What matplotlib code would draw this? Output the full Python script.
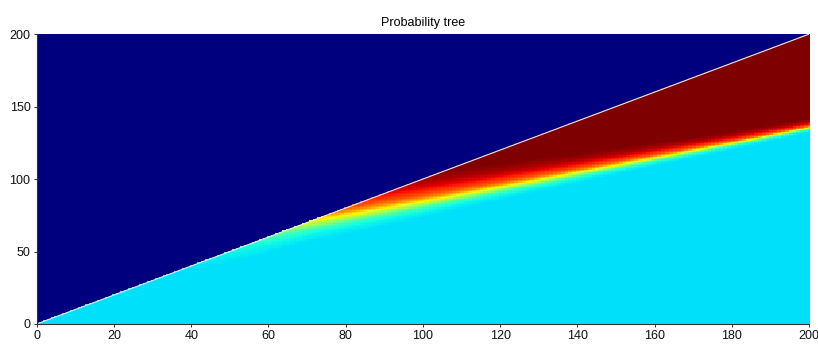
import numpy as np
import matplotlib
matplotlib.use("Agg")
import matplotlib.pyplot as plt

# ---- data ----
n_steps = 200                      # grid extent on both axes
value_above_diag = 0.0             # dark blue region (y > x)
value_low = 0.345                  # cyan region
value_high = 1.0                   # dark red region

# centre (yellow) line of the transition band and its width, read at several x
band_x = [0, 50, 60, 70, 80, 100, 120, 140, 160, 180, 200]
band_center = [42, 62, 66, 70.5, 75, 84.5, 94.5, 104.5, 114.7, 124.8, 135.5]
band_width = [8, 8, 7, 5.8, 5.4, 4.5, 3.6, 2.9, 2.3, 1.8, 1.4]

# value profile across the band (offset in band-width units -> value)
profile_offset = [-2.5, -1.5, -1.0, -0.5, 0.0, 0.5, 1.0, 2.0, 3.0, 4.5]
profile_value = [0.345, 0.37, 0.42, 0.53, 0.64, 0.75, 0.82, 0.90, 0.96, 1.0]

x_ticks = [0, 20, 40, 60, 80, 100, 120, 140, 160, 180, 200]
y_ticks = [0, 50, 100, 150, 200]
title = "Probability tree"

# ---- build grid ----
xs = np.arange(n_steps + 1)
ys = np.arange(n_steps + 1)
centers = np.interp(xs, band_x, band_center)
widths = np.interp(xs, band_x, band_width)
X, Y = np.meshgrid(xs, ys)
offs = (Y - centers[None, :]) / widths[None, :]
frac = (np.interp(offs, profile_offset, profile_value) - profile_value[0]) / (profile_value[-1] - profile_value[0])
Z = value_low + (value_high - value_low) * frac
Z[Y > X] = value_above_diag

plt.rcParams['font.family'] = ['Liberation Sans Narrow', 'Liberation Sans', 'DejaVu Sans']
fig = plt.figure(figsize=(8.18, 3.45), dpi=100)
ax = fig.add_axes([0.045, 0.061, 0.944, 0.840])
ax.imshow(Z, origin='lower', cmap='jet', vmin=0, vmax=1, aspect='auto',
          extent=[-0.5, n_steps + 0.5, -0.5, n_steps + 0.5], interpolation='nearest')
ax.plot(xs, xs, color='#e8e8f0', lw=0.8)
ax.set_xlim(0, n_steps)
ax.set_ylim(0, n_steps)
ax.set_xticks(x_ticks)
ax.set_yticks(y_ticks)
ax.tick_params(direction='out', length=2.5, width=0.6, labelsize=9, pad=2, colors='#111111')
for s in ['top', 'right']:
    ax.spines[s].set_visible(False)
for s in ['left', 'bottom']:
    ax.spines[s].set_linewidth(0.8)
    ax.spines[s].set_color('#333333')
ax.set_title(title, fontsize=9, pad=6)
fig.savefig("out.png", dpi=100)
